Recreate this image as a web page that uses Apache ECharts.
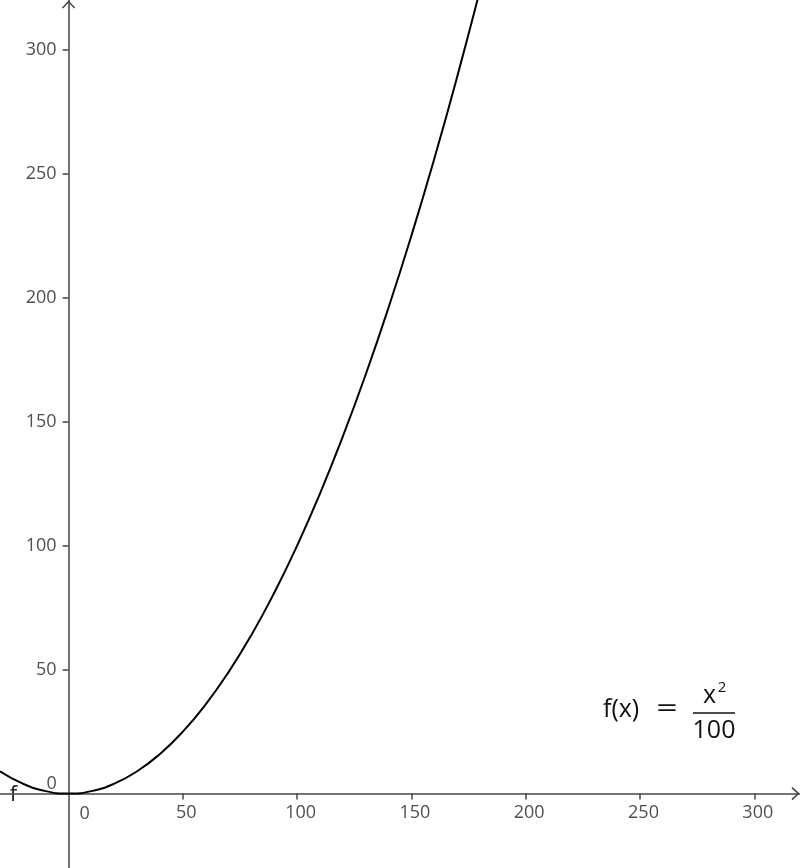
<!DOCTYPE html>
<html>
<head>
<meta charset="utf-8">
<script src="https://cdn.jsdelivr.net/npm/echarts@6/dist/echarts.min.js"></script>
<style>html,body{margin:0;padding:0;background:#fff}#c{width:800px;height:868px}</style>
</head>
<body>
<div id="c"></div>
<script>
const xValues = [-30, -20, -10, 0, 10, 20, 30, 40, 50, 60, 70, 80, 90, 100, 110, 120, 130, 140, 150, 160, 170, 180];
const yValues = [9, 4, 1, 0, 1, 4, 9, 16, 25, 36, 49, 64, 81, 100, 121, 144, 169, 196, 225, 256, 289, 324];
const xTicks = [50, 100, 150, 200, 250, 300];
const yTicks = [50, 100, 150, 200, 250, 300];
const axisMin = -30, axisMax = 320;

const W = 800, H = 868;
const points = xValues.map((x, i) => [x, yValues[i]]);
const font = '"Open Sans", "Noto Sans", sans-serif';
const axisColor = '#444';
const labelColor = '#505050';

// second grid whose edges sit on the zero lines, used only for tick labels
const span = axisMax - axisMin;
const g2Left = W * (0 - axisMin) / span;
const g2Bottom = H * (0 - axisMin) / span;

const chart = echarts.init(document.getElementById('c'), null, {renderer: 'canvas'});
chart.setOption({
  animation: false,
  backgroundColor: '#fff',
  grid: [
    {left: 0, right: 0, top: 0, bottom: 0, containLabel: false, outerBoundsMode: 'none'},
    {left: g2Left, right: 0, top: 0, bottom: g2Bottom, containLabel: false, outerBoundsMode: 'none'}
  ],
  xAxis: [
    {
      type: 'value', gridIndex: 0, min: axisMin, max: axisMax,
      splitLine: {show: false},
      axisLine: {show: true, onZero: true, lineStyle: {color: axisColor, width: 1.5}},
      axisTick: {show: true, length: 6, customValues: xTicks, lineStyle: {color: axisColor, width: 1.5}},
      axisLabel: {show: false}
    },
    {
      type: 'value', gridIndex: 1, min: 0, max: axisMax,
      splitLine: {show: false}, axisLine: {show: false}, axisTick: {show: false},
      axisLabel: {show: true, customValues: xTicks, margin: 10, color: labelColor, fontSize: 18, fontFamily: font, padding: [0, 0, 0, 7]}
    }
  ],
  yAxis: [
    {
      type: 'value', gridIndex: 0, min: axisMin, max: axisMax,
      splitLine: {show: false},
      axisLine: {show: true, onZero: true, lineStyle: {color: axisColor, width: 1.5}},
      axisTick: {show: true, length: 6, customValues: yTicks, lineStyle: {color: axisColor, width: 1.5}},
      axisLabel: {show: false}
    },
    {
      type: 'value', gridIndex: 1, min: 0, max: axisMax,
      splitLine: {show: false}, axisLine: {show: false}, axisTick: {show: false},
      axisLabel: {show: true, customValues: yTicks, margin: 12, color: labelColor, fontSize: 18, fontFamily: font}
    }
  ],
  series: [{
    type: 'line', xAxisIndex: 0, yAxisIndex: 0, data: points, smooth: true, symbol: 'none', clip: true,
    lineStyle: {color: '#000', width: 2}
  }]
});

const o = chart.convertToPixel({gridIndex: 0}, [0, 0]);
const ox = o[0], oy = o[1];
const txt = (x, y, text, size, fill, align) => ({type: 'text', x: x, y: y, style: {text: text, fontSize: size, fontFamily: font, fill: fill, align: align || 'center', verticalAlign: 'middle'}});
chart.setOption({
  graphic: [
    {type: 'polyline', shape: {points: [[ox - 6, 8], [ox, 1.5], [ox + 6, 8]]}, style: {stroke: axisColor, lineWidth: 1.5, fill: null}},
    {type: 'polyline', shape: {points: [[792, oy - 6], [798.5, oy], [792, oy + 6]]}, style: {stroke: axisColor, lineWidth: 1.5, fill: null}},
    txt(ox + 16, oy + 20, '0', 18, labelColor),
    txt(ox - 17, oy - 10, '0', 18, labelColor),
    txt(13.5, oy + 1, 'f', 22, '#222'),
    txt(603, 710, 'f(x)', 25, '#111', 'left'),
    {type: 'text', x: 667, y: 710, scaleX: 1.5, style: {text: '=', fontSize: 25, fontFamily: font, fill: '#111', align: 'center', verticalAlign: 'middle'}},
    {type: 'line', shape: {x1: 693, y1: 713, x2: 735, y2: 713}, style: {stroke: '#111', lineWidth: 1.5}},
    txt(709.5, 696, 'x', 25, '#111'),
    txt(722, 688, '2', 15, '#111'),
    txt(714, 731, '100', 25, '#111')
  ]
});
</script>
</body>
</html>
